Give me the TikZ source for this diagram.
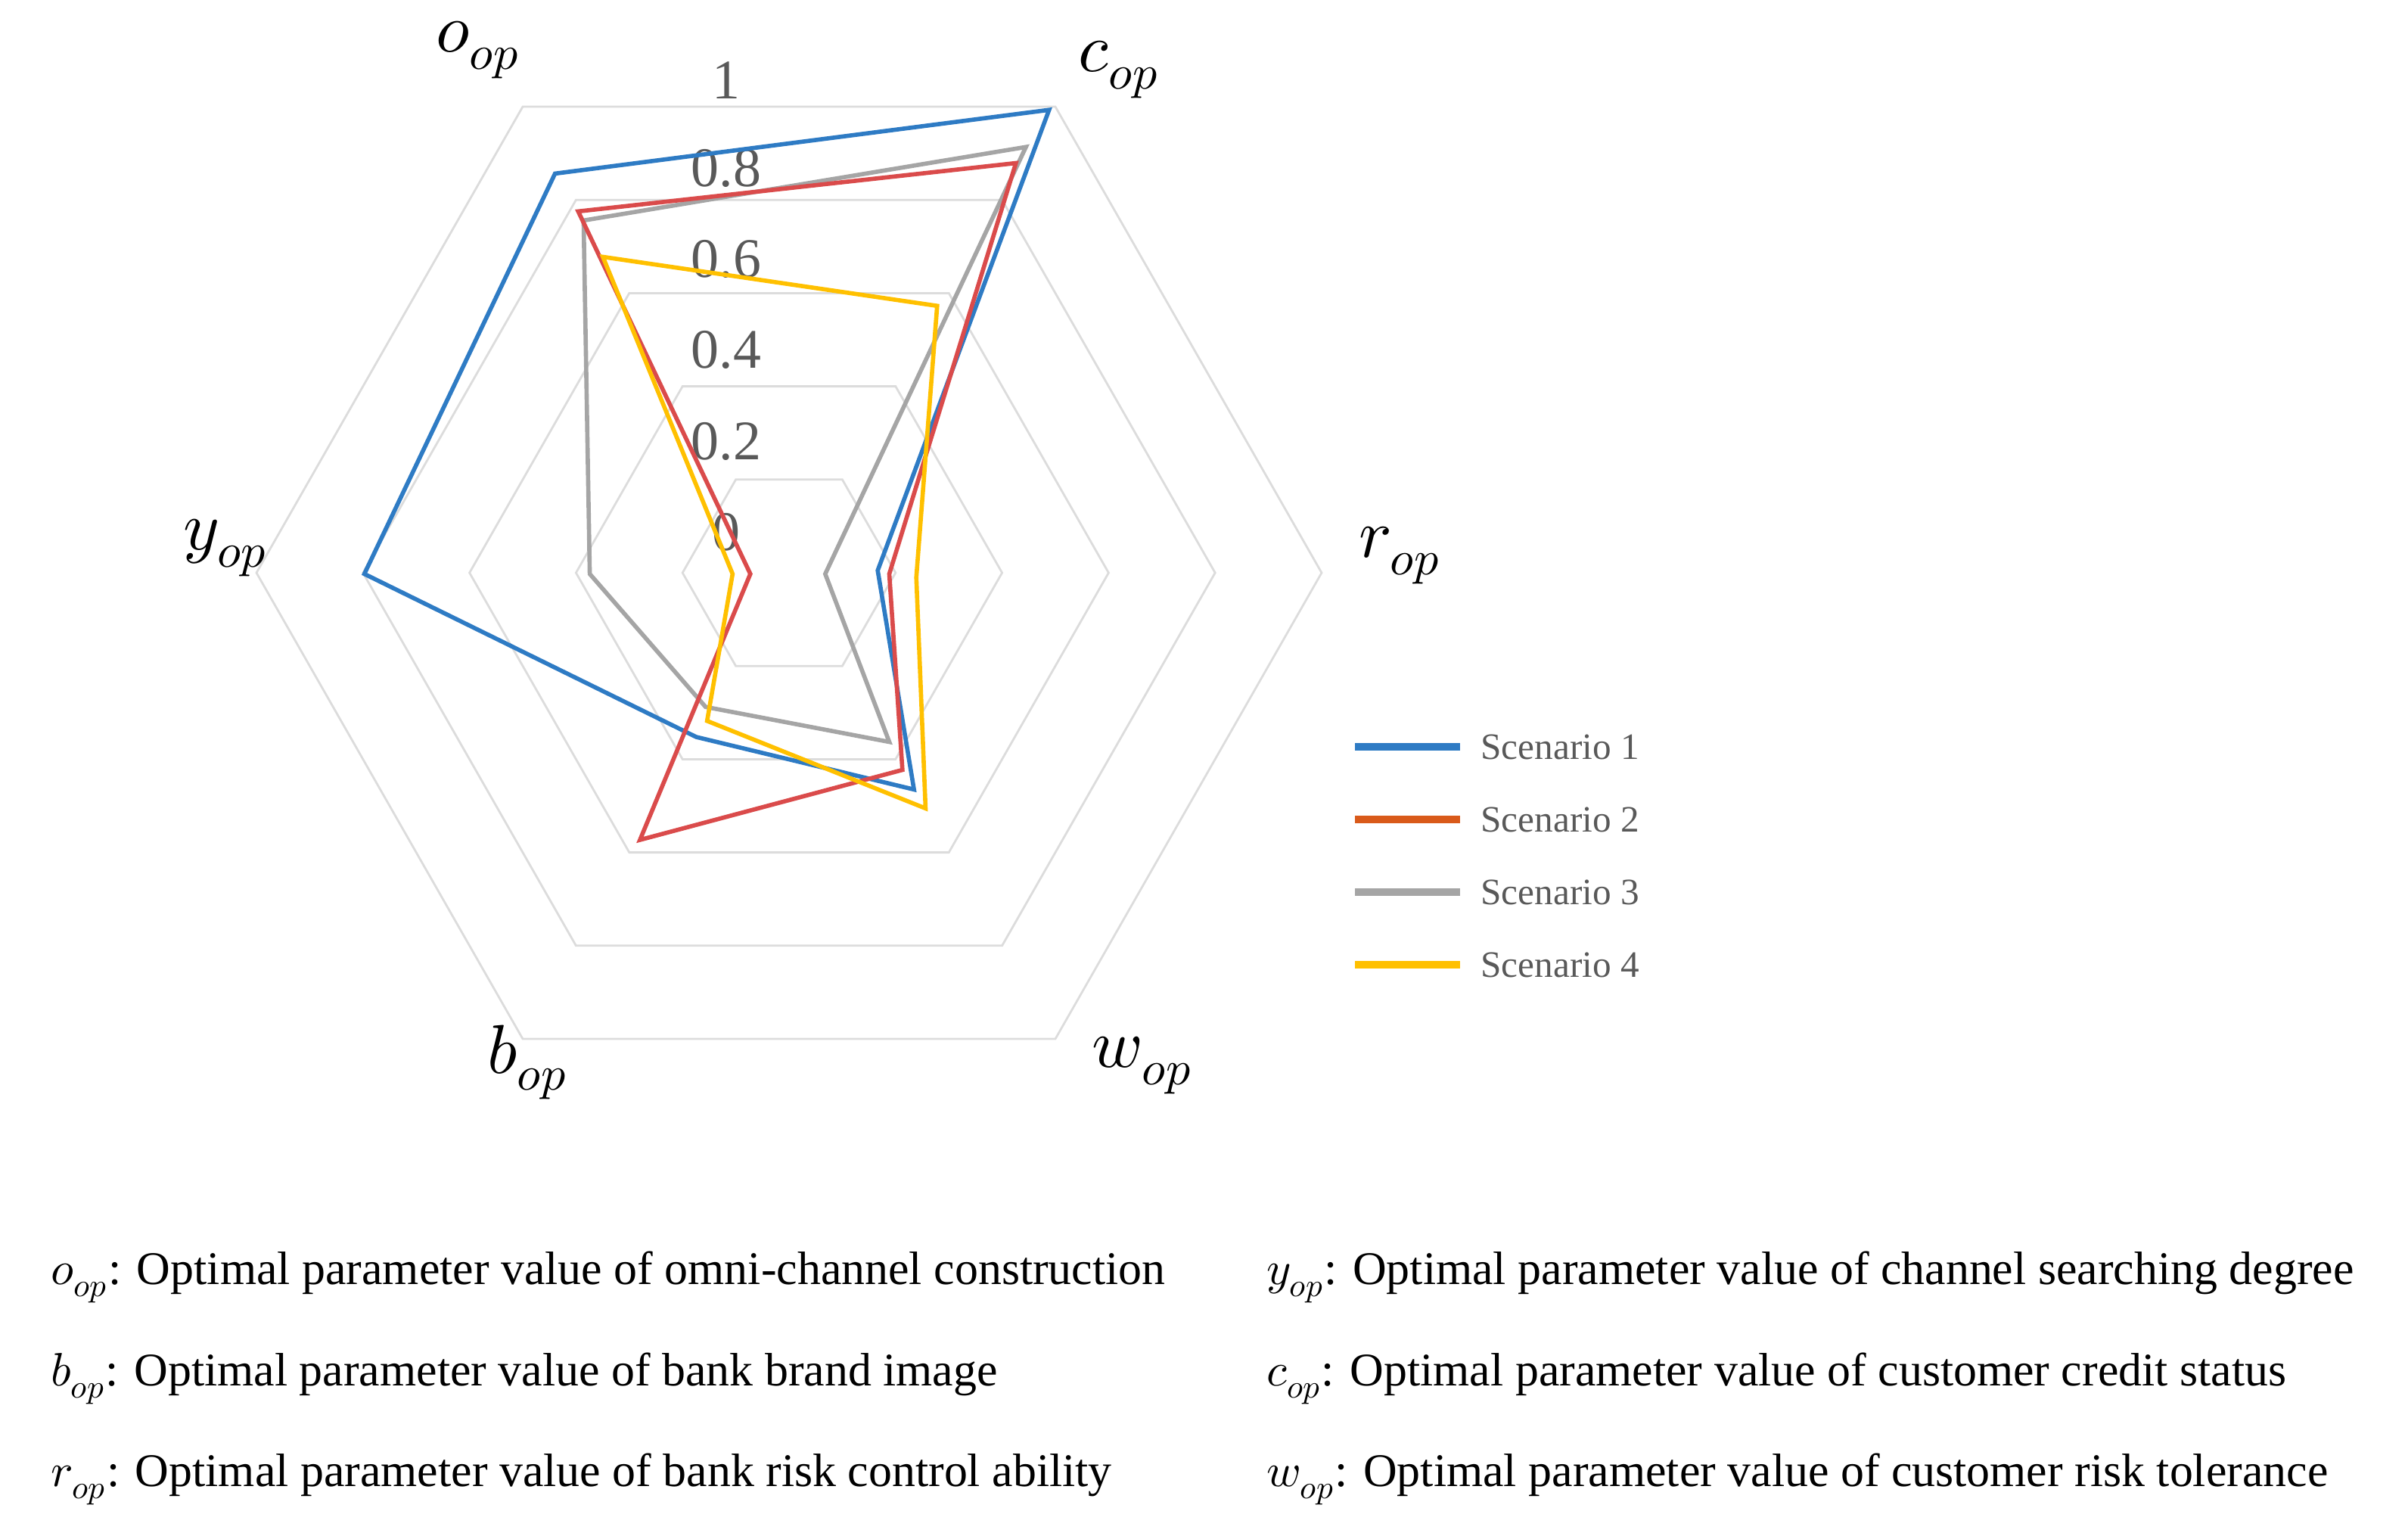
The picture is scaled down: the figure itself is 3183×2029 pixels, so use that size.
\documentclass[tikz,border=0pt]{standalone}
\usepackage{fontspec}
\setmainfont{Liberation Serif}
\usepackage{unicode-math}
\setmathfont{Latin Modern Math}
\definecolor{sblue}{HTML}{2E7BC4}
\definecolor{sred}{HTML}{DA4B4B}
\definecolor{sorange}{HTML}{D95A1A}
\definecolor{sgray}{HTML}{A5A5A5}
\definecolor{syellow}{HTML}{FFC000}
\definecolor{grid}{HTML}{DCDCDC}
\definecolor{tick}{HTML}{595959}
\begin{document}
\begin{tikzpicture}[x=0.01cm,y=-0.01cm,
  gridl/.style={grid,line width=0.8pt},
  ser/.style={line width=1.6pt,line join=miter},
  leg/.style={line width=3pt},
  axl/.style={font=\fontsize{26}{30}\selectfont},
  tickl/.style={text=tick,font=\fontsize{21}{24}\selectfont},
  legt/.style={anchor=west,text=tick,font=\fontsize{14}{16}\selectfont},
  note/.style={anchor=west,font=\fontsize{17.6}{20}\selectfont}]
\useasboundingbox (0,0) rectangle (3183,2029);
% grid hexagons
\foreach \k in {1,...,5}{
  \draw[gridl] ({1043+704*\k/5},757) -- ({1043+352*\k/5},{757-616*\k/5}) -- ({1043-352*\k/5},{757-616*\k/5}) -- ({1043-704*\k/5},757) -- ({1043-352*\k/5},{757+616*\k/5}) -- ({1043+352*\k/5},{757+616*\k/5}) -- cycle;}
% tick labels
\foreach \v/\yy in {1/106,0.8/222,0.6/342,0.4/462,0.2/583,0/703}
  \node[tickl] (t\yy) at (960,\yy) {\v};
% helper: zoom coords -> original
\def\P(#1,#2){({300+#1*1.0204},{#2*0.925})}
\draw[ser,sblue] \P(425,248) -- \P(1065,157) -- \P(843,815) -- \P(890,1128) -- \P(608,1053) -- \P(178,820) -- cycle;
\draw[ser,sgray] \P(462,315) -- \P(1035,210) -- \P(775,820) -- \P(858,1060) -- \P(620,1010) -- \P(470,820) -- cycle;
\draw[ser,sred] \P(455,302) -- \P(1022,233) -- \P(858,820) -- \P(875,1100) -- \P(535,1200) -- \P(678,820) -- cycle;
\draw[ser,syellow] \P(487,367) -- \P(920,437) -- \P(893,825) -- \P(905,1155) -- \P(622,1030) -- \P(655,820) -- cycle;
% axis labels
\node[axl] (lo) at (632,66) {$o_{op}$};
\node[axl] (lc) at (1479,92) {$c_{op}$};
\node[axl] (lr) at (1850,734) {$r_{op}$};
\node[axl] (lw) at (1510,1408) {$w_{op}$};
\node[axl] (lb) at (697,1404) {$b_{op}$};
\node[axl] (ly) at (298,724) {$y_{op}$};
% legend
\foreach \c/\n/\yy in {sblue/1/987,sorange/2/1083,sgray/3/1179,syellow/4/1275}{
  \coordinate (la\n) at (1791,\yy); \coordinate (lb\n) at (1930,\yy);
  \draw[leg,\c] (la\n) -- (lb\n);
  \node[legt] (lt\n) at (1945,\yy) {Scenario \n};}
% notes
\node[note] (n1) at (55,1688) {$o_{op}$: Optimal parameter value of omni-channel construction};
\node[note] (n2) at (55,1822) {$b_{op}$: Optimal parameter value of bank brand image};
\node[note] (n3) at (55,1955) {$r_{op}$: Optimal parameter value of bank risk control ability};
\node[note] (n4) at (1662,1688) {$y_{op}$: Optimal parameter value of channel searching degree};
\node[note] (n5) at (1662,1822) {$c_{op}$: Optimal parameter value of customer credit status};
\node[note] (n6) at (1662,1955) {$w_{op}$: Optimal parameter value of customer risk tolerance};
\end{tikzpicture}
\end{document}
